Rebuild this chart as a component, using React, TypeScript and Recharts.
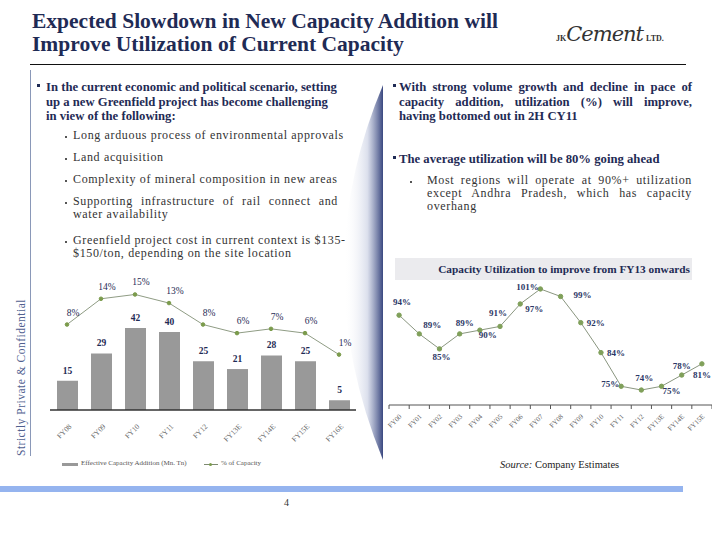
import React from "react";
import { ComposedChart, Bar, Line, XAxis, YAxis, LabelList } from "recharts";

const LEFT_YEARS = ["FY08", "FY09", "FY10", "FY11", "FY12", "FY13E", "FY14E", "FY15E", "FY16E"];
const CAPACITY_ADDITION = [15, 29, 42, 40, 25, 21, 28, 25, 5];
const PCT_OF_CAPACITY = [8, 14, 15, 13, 8, 6, 7, 6, 1];

const RIGHT_YEARS = [
  "FY00", "FY01", "FY02", "FY03", "FY04", "FY05", "FY06", "FY07",
  "FY08", "FY09", "FY10", "FY11", "FY12", "FY13E", "FY14E", "FY15E",
];
const UTILIZATION = [94, 89, 85, 89, 90, 91, 97, 101, 99, 92, 84, 75, 74, 75, 78, 81];
// where each utilization label sits relative to its point (dx, dy)
const UTIL_LABEL_SHIFT: [number, number][] = [
  [3, -13], [13, -9], [2, 8], [5, -11], [8, 5], [-2, -13], [14, 5], [-13, -2],
  [22, -1], [15, 0], [15, 0], [-11, -2], [3, -12], [10, 5], [0, -9], [0, 11],
];

const leftData = LEFT_YEARS.map((year, i) => ({
  year,
  added: CAPACITY_ADDITION[i],
  pct: PCT_OF_CAPACITY[i],
}));
const rightData = RIGHT_YEARS.map((year, i) => ({ year, util: UTILIZATION[i] }));

const NAVY = "#1f2b55";
const SERIF = "'Liberation Serif', 'DejaVu Serif', serif";
const RIGHT_W = 323;
const RIGHT_HALF = RIGHT_W / RIGHT_YEARS.length / 2;

const LeftTick = (props: any) => {
  const { x, y, payload } = props;
  return (
    <text
      x={x + 5}
      y={y + 17}
      textAnchor="end"
      fontSize={7.5}
      fill="#666"
      fontFamily={SERIF}
      transform={`rotate(-45 ${x + 5} ${y + 17})`}
    >
      {payload.value}
    </text>
  );
};

const RightTick = (props: any) => {
  const { x, y, payload, index } = props;
  return (
    <g>
      <line x1={x - RIGHT_HALF} x2={x - RIGHT_HALF} y1={y} y2={y + 4} stroke="#555" />
      {index === RIGHT_YEARS.length - 1 && (
        <line x1={x + RIGHT_HALF} x2={x + RIGHT_HALF} y1={y} y2={y + 4} stroke="#555" />
      )}
      <text
        x={x + 3}
        y={y + 12}
        textAnchor="end"
        fontSize={7}
        fill="#666"
        fontFamily={SERIF}
        transform={`rotate(-45 ${x + 3} ${y + 12})`}
      >
        {payload.value}
      </text>
    </g>
  );
};

const JLine = ({ text, width, last }: { text: string; width: number; last?: boolean }) => (
  <div
    style={{
      width,
      whiteSpace: "nowrap",
      textAlign: "justify",
      textAlignLast: last ? "left" : "justify",
    }}
  >
    {text}
  </div>
);

const Square = ({ x, y }: { x: number; y: number }) => (
  <div style={{ position: "absolute", left: x, top: y, width: 3, height: 3, background: NAVY }} />
);
const Dot = ({ x, y }: { x: number; y: number }) => (
  <div style={{ position: "absolute", left: x, top: y, width: 2, height: 2, background: "#555" }} />
);

export default function App() {
  const boldText: React.CSSProperties = {
    position: "absolute",
    fontFamily: SERIF,
    fontWeight: 700,
    fontSize: 12.7,
    lineHeight: "14.5px",
    color: NAVY,
  };
  const plainText: React.CSSProperties = {
    position: "absolute",
    fontFamily: SERIF,
    fontSize: 12,
    letterSpacing: 0.65,
    lineHeight: "13px",
    color: "#333",
    whiteSpace: "nowrap",
  };

  return (
    <div
      style={{
        position: "absolute",
        left: 0,
        top: 0,
        width: 720,
        height: 540,
        background: "#fff",
        overflow: "hidden",
        fontFamily: SERIF,
      }}
    >
      {/* title */}
      <div
        style={{
          position: "absolute",
          left: 32,
          top: 10,
          fontSize: 21.5,
          fontWeight: 700,
          lineHeight: "23px",
          color: NAVY,
          whiteSpace: "nowrap",
        }}
      >
        Expected Slowdown in New Capacity Addition will
        <br />
        Improve Utilization of Current Capacity
      </div>
      {/* logo */}
      <div
        style={{
          position: "absolute",
          left: 556,
          top: 22,
          whiteSpace: "nowrap",
          color: "#333",
          display: "flex",
          alignItems: "baseline",
        }}
      >
        <span style={{ fontSize: 8, fontWeight: 700 }}>JK</span>
        <span style={{ fontSize: 21, fontStyle: "italic", fontFamily: "'DejaVu Serif', serif", letterSpacing: -1 }}>
          Cement
        </span>
        <span style={{ fontSize: 8, fontWeight: 700, marginLeft: 3 }}>LTD.</span>
      </div>
      <div style={{ position: "absolute", left: 30, top: 64, width: 656, height: 1, background: "#111" }} />

      {/* side rule and confidentiality note */}
      <div style={{ position: "absolute", left: 30, top: 70, width: 1, height: 386, background: "#8a98b8" }} />
      <div
        style={{
          position: "absolute",
          left: 15,
          top: 456,
          transform: "rotate(-90deg)",
          transformOrigin: "0 0",
          fontSize: 11.5,
          letterSpacing: 0.5,
          color: "#50608f",
          whiteSpace: "nowrap",
        }}
      >
        Strictly Private &amp; Confidential
      </div>

      {/* page-curl shading */}
      <svg style={{ position: "absolute", left: 0, top: 0 }} width={720} height={540}>
        <defs>
          <linearGradient id="curl" x1="0" x2="1" y1="0" y2="0">
            <stop offset="0" stopColor="#ffffff" stopOpacity={0} />
            <stop offset="0.6" stopColor="#d3d8e8" stopOpacity={0.8} />
            <stop offset="1" stopColor="#3a4880" />
          </linearGradient>
        </defs>
        <path d="M 383 85 Q 305 270 383 460 Z" fill="url(#curl)" />
      </svg>

      {/* left text */}
      <Square x={37} y={84} />
      <div style={{ ...boldText, left: 46, top: 80 }}>
        <JLine text="In the current economic and political scenario, setting" width={292} last />
        <JLine text="up a new Greenfield project has become challenging" width={292} last />
        <JLine text="in view of the following:" width={292} last />
      </div>
      <Dot x={65} y={136} />
      <div style={{ ...plainText, left: 73, top: 129 }}>Long arduous process of environmental approvals</div>
      <Dot x={65} y={158} />
      <div style={{ ...plainText, left: 73, top: 151 }}>Land acquisition</div>
      <Dot x={65} y={180} />
      <div style={{ ...plainText, left: 73, top: 173 }}>Complexity of mineral composition in new areas</div>
      <Dot x={65} y={202} />
      <div style={{ ...plainText, left: 73, top: 195 }}>
        <JLine text="Supporting infrastructure of rail connect and" width={265} />
        <JLine text="water availability" width={265} last />
      </div>
      <Dot x={65} y={241} />
      <div style={{ ...plainText, left: 73, top: 234 }}>
        <JLine text="Greenfield project cost in current context is $135-" width={269} />
        <JLine text="$150/ton, depending on the site location" width={269} last />
      </div>

      {/* right text */}
      <Square x={393} y={84} />
      <div style={{ ...boldText, left: 399, top: 80 }}>
        <JLine text="With strong volume growth and decline in pace of" width={293} />
        <JLine text="capacity addition, utilization (%) will improve," width={293} />
        <JLine text="having bottomed out in 2H CY11" width={293} last />
      </div>
      <Square x={393} y={156} />
      <div style={{ ...boldText, left: 399, top: 152, whiteSpace: "nowrap" }}>
        The average utilization will be 80% going ahead
      </div>
      <Dot x={410} y={181} />
      <div style={{ ...plainText, left: 427, top: 174 }}>
        <JLine text="Most regions will operate at 90%+ utilization" width={265} />
        <JLine text="except Andhra Pradesh, which has capacity" width={265} />
        <JLine text="overhang" width={265} last />
      </div>

      {/* caption band */}
      <div
        style={{
          position: "absolute",
          left: 395,
          top: 258,
          width: 297,
          height: 22,
          background: "#ebebee",
          fontSize: 11.3,
          fontWeight: 700,
          color: NAVY,
          lineHeight: "22px",
          textAlign: "right",
          paddingRight: 2,
          boxSizing: "border-box",
          whiteSpace: "nowrap",
        }}
      >
        Capacity Utilization to improve from FY13 onwards
      </div>

      {/* left chart */}
      <div style={{ position: "absolute", left: 50, top: 270 }}>
        <ComposedChart width={306} height={175} data={leftData} margin={{ top: 0, right: 0, bottom: 0, left: 0 }}>
          <XAxis
            dataKey="year"
            interval={0}
            height={35}
            tickLine={false}
            tickSize={0}
            tickMargin={0}
            tick={<LeftTick />}
            axisLine={{ stroke: "#333", strokeWidth: 1.5 }}
          />
          <YAxis yAxisId="bars" hide domain={[0, 71.8]} />
          <YAxis yAxisId="pct" hide orientation="right" domain={[-11.9, 20.7]} />
          <Bar yAxisId="bars" dataKey="added" fill="#999999" barSize={21} isAnimationActive={false}>
            <LabelList
              dataKey="added"
              content={(p: any) => (
                <text
                  x={p.x + p.width / 2}
                  y={p.y - 10}
                  textAnchor="middle"
                  dominantBaseline="central"
                  fontSize={9.5}
                  fontWeight={700}
                  fill={NAVY}
                  fontFamily={SERIF}
                >
                  {p.value}
                </text>
              )}
            />
          </Bar>
          <Line
            yAxisId="pct"
            dataKey="pct"
            stroke="#8f9c84"
            strokeWidth={1}
            dot={{ r: 1.8, fill: "#7b9b4c", stroke: "#7b9b4c" }}
            isAnimationActive={false}
            label={(p: any) => (
              <text
                key={p.index}
                x={p.x + 6}
                y={p.y - 12}
                textAnchor="middle"
                dominantBaseline="central"
                fontSize={9.5}
                fill={NAVY}
                fontFamily={SERIF}
              >
                {p.value}%
              </text>
            )}
          />
        </ComposedChart>
      </div>

      {/* right chart */}
      <div style={{ position: "absolute", left: 383, top: 280 }}>
        <ComposedChart
          width={RIGHT_W + 6}
          height={155}
          data={rightData}
          margin={{ top: 0, right: 0, bottom: 0, left: 6 }}
        >
          <XAxis
            dataKey="year"
            interval={0}
            height={30}
            padding={{ left: RIGHT_HALF, right: RIGHT_HALF }}
            tickLine={false}
            tickSize={0}
            tickMargin={0}
            tick={<RightTick />}
            axisLine={{ stroke: "#555", strokeWidth: 1 }}
          />
          <YAxis hide domain={[70, 103.4]} />
          <Line
            dataKey="util"
            stroke="#8a9680"
            strokeWidth={1}
            dot={{ r: 2.2, fill: "#80a05a", stroke: "#80a05a" }}
            isAnimationActive={false}
            label={(p: any) => {
              const [dx, dy] = UTIL_LABEL_SHIFT[p.index] || [0, -10];
              return (
                <text
                  key={p.index}
                  x={p.x + dx}
                  y={p.y + dy}
                  textAnchor="middle"
                  dominantBaseline="central"
                  fontSize={9}
                  fontWeight={600}
                  fill="#2c3766"
                  fontFamily={SERIF}
                >
                  {p.value}%
                </text>
              );
            }}
          />
        </ComposedChart>
      </div>

      {/* legend */}
      <div style={{ position: "absolute", left: 62, top: 463, width: 16, height: 3, background: "#999" }} />
      <div style={{ position: "absolute", left: 81, top: 459, fontSize: 7, color: "#555", whiteSpace: "nowrap" }}>
        Effective Capacity Addition (Mn. Tn)
      </div>
      <div style={{ position: "absolute", left: 204, top: 464, width: 14, height: 1, background: "#7d8a70" }} />
      <div style={{ position: "absolute", left: 209, top: 463, width: 3, height: 3, borderRadius: 2, background: "#7b9b4c" }} />
      <div style={{ position: "absolute", left: 221, top: 459, fontSize: 7, color: "#555", whiteSpace: "nowrap" }}>
        % of Capacity
      </div>
      <div style={{ position: "absolute", left: 500, top: 459, fontSize: 10.5, color: "#222", whiteSpace: "nowrap" }}>
        <i>Source:</i> Company Estimates
      </div>

      {/* footer */}
      <div style={{ position: "absolute", left: 0, top: 486, width: 683, height: 6, background: "#95b4ef" }} />
      <div style={{ position: "absolute", left: 284, top: 497, fontSize: 10, color: "#333" }}>4</div>
    </div>
  );
}
